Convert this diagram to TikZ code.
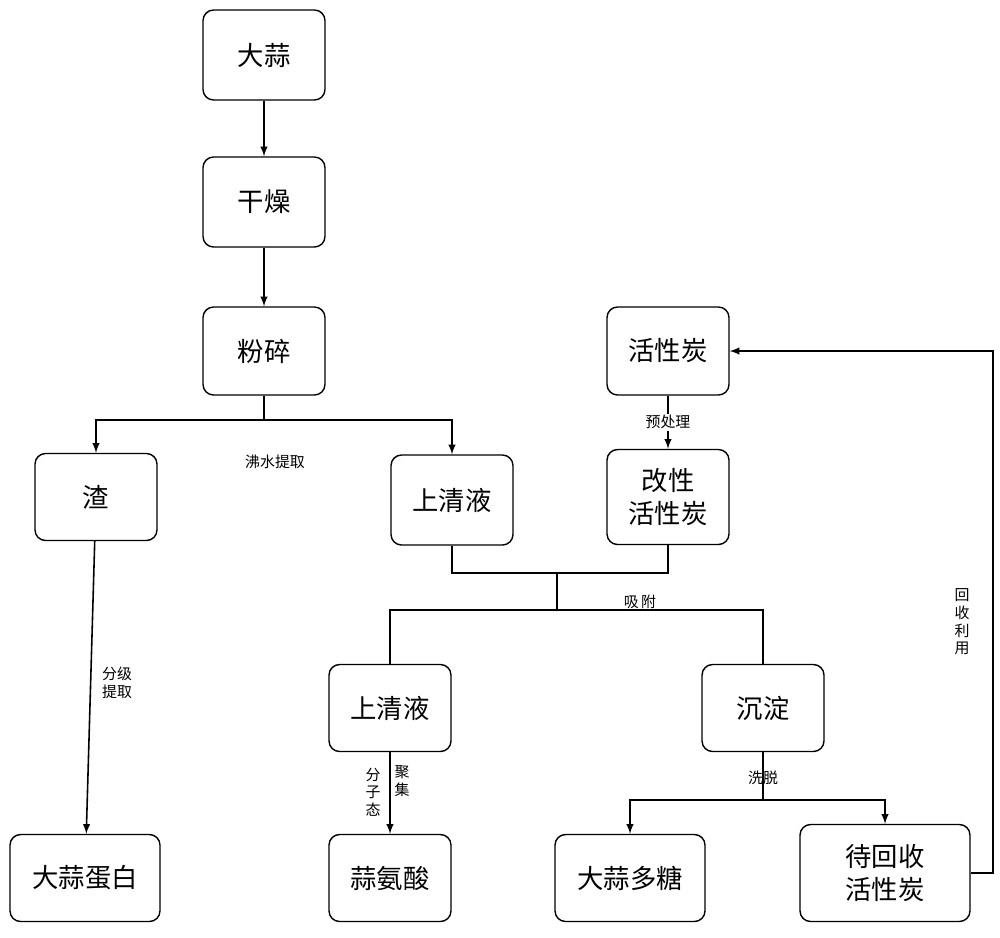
\documentclass[tikz,border=0pt]{standalone}
\usepackage{fontspec}
\setmainfont{Noto Sans CJK SC}
\begin{document}
\begin{tikzpicture}[x=0.02cm,y=-0.02cm,
 box/.style={draw,rounded corners=6pt,line width=0.8pt,align=center,font=\fontsize{15}{19}\selectfont,inner sep=0},
 lab/.style={font=\fontsize{8.5}{10}\selectfont,align=center,inner sep=1pt},
 ln/.style={line width=0.9pt},
 ar/.style={ln,-latex}]
\useasboundingbox (0,0) rectangle (1000,937);
\node[box,minimum width=2.44cm,minimum height=1.8cm] (ds) at (264,55) {大蒜};
\node[box,minimum width=2.44cm,minimum height=1.8cm] (gz) at (264,202) {干燥};
\node[box,minimum width=2.44cm,minimum height=1.76cm] (fs) at (264,351) {粉碎};
\node[box,minimum width=2.44cm,minimum height=1.74cm] (z) at (96,497) {渣};
\node[box,minimum width=2.44cm,minimum height=1.8cm] (sq1) at (452,500) {上清液};
\node[box,minimum width=2.44cm,minimum height=1.76cm] (hx) at (668,351) {活性炭};
\node[box,minimum width=2.44cm,minimum height=1.9cm] (gx) at (668,497) {改性\\活性炭};
\node[box,minimum width=2.44cm,minimum height=1.74cm] (sq2) at (390,708) {上清液};
\node[box,minimum width=2.44cm,minimum height=1.74cm] (cd) at (763,708) {沉淀};
\node[box,minimum width=3cm,minimum height=1.74cm] (db) at (85,878) {大蒜蛋白};
\node[box,minimum width=2.44cm,minimum height=1.74cm] (sa) at (390,878) {蒜氨酸};
\node[box,minimum width=3cm,minimum height=1.74cm] (dt) at (630,878) {大蒜多糖};
\node[box,minimum width=3.4cm,minimum height=1.94cm] (dh) at (885,873) {待回收\\活性炭};
\coordinate (j1) at (264,420);
\coordinate (j2) at (557,573);
\coordinate (j3) at (557,610);
\coordinate (j4) at (763,800);
\coordinate (j5) at (993,873);
\draw[ar] (ds) -- (gz);
\draw[ar] (gz) -- (fs);
\draw[ln] (fs) -- (j1);
\draw[ar] (j1) -| (z);
\draw[ar] (j1) -| (sq1);
\node[lab] at (275,462) {沸水提取};
\draw[ar] (hx) -- node[lab,fill=white]{预处理} (gx);
\draw[ln] (sq1.south) |- (j2) -| (gx.south);
\draw[ln] (j2) -- (j3);
\draw[ln] (j3) -| (sq2.north);
\draw[ln] (j3) -| (cd.north);
\node[lab] at (640,602) {吸\,附};
\draw[ar] (z) -- (db);
\node[lab] at (117,683) {分级\\提取};
\draw[ar] (sq2) -- (sa);
\node[lab] at (373,792) {分\\子\\态};
\node[lab] at (402,781) {聚\\集};
\draw[ln] (cd) -- (j4);
\draw[ar] (j4) -| (dt);
\draw[ar] (j4) -| (dh);
\node[lab] at (763,778) {洗脱};
\draw[ar] (dh.east) -- (j5) |- (hx.east);
\node[lab] at (962,622) {回\\收\\利\\用};
\end{tikzpicture}
\end{document}
